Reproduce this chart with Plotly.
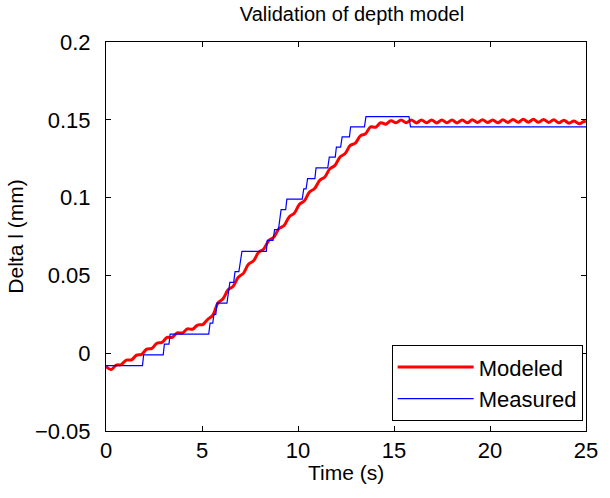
import plotly.graph_objects as go

# Measured (step-like sensor data)
t_meas = [0, 1.90, 1.96, 2.98, 3.04, 3.28, 3.34, 5.35, 5.42, 5.56, 5.62, 5.72, 5.78,
          6.30, 6.45, 6.65, 6.72, 6.92, 7.08, 8.35, 8.40, 8.70, 8.78, 8.98, 9.12,
          9.36, 9.42, 10.22, 10.30, 10.42, 10.50, 10.88, 10.94, 11.55, 11.63,
          11.94, 12.00, 12.22, 12.30, 12.68, 12.74, 13.46, 13.54, 15.78, 15.86, 25]
v_meas = [-0.0080, -0.0080, -0.0011, -0.0011, 0.0058, 0.0058, 0.0122, 0.0122, 0.0193,
          0.0193, 0.0250, 0.0250, 0.0322, 0.0322, 0.0455, 0.0455, 0.0524, 0.0524,
          0.0654, 0.0654, 0.0725, 0.0725, 0.0794, 0.0794, 0.0923, 0.0923, 0.0990,
          0.0990, 0.1056, 0.1056, 0.1122, 0.1122, 0.1191, 0.1191, 0.1260, 0.1260,
          0.1325, 0.1325, 0.1390, 0.1390, 0.1455, 0.1455, 0.1520, 0.1520, 0.1455, 0.1455]

# Modeled (smooth with small ripple)
t_model = [0.000, 0.265, 0.530, 0.795, 1.060, 1.325, 1.590, 1.855, 2.120, 2.385,
           2.650, 2.915, 3.180, 3.445, 3.710, 3.975, 4.240, 4.505, 4.770, 5.035,
           5.300, 5.565, 5.830, 6.095, 6.360, 6.625, 6.890, 7.155, 7.420, 7.685,
           7.950, 8.215, 8.480, 8.745, 9.010, 9.275, 9.540, 9.805, 10.070, 10.335,
           10.600, 10.865, 11.130, 11.395, 11.660, 11.925, 12.190, 12.455, 12.720, 12.985,
           13.250, 13.515, 13.780, 14.045, 14.310, 14.575, 14.840, 15.105, 15.370, 15.635,
           15.900, 16.165, 16.430, 16.695, 16.960, 17.225, 17.490, 17.755, 18.020, 18.285,
           18.550, 18.815, 19.080, 19.345, 19.610, 19.875, 20.140, 20.405, 20.670, 20.935,
           21.200, 21.465, 21.730, 21.995, 22.260, 22.525, 22.790, 23.055, 23.320, 23.585,
           23.850, 24.115, 24.380, 24.645, 24.910, 25.000]
v_model = [-0.0086, -0.0105, -0.0077, -0.0073, -0.0044, -0.0043, -0.0012, -0.0007, 0.0026, 0.0031,
           0.0064, 0.0069, 0.0101, 0.0102, 0.0131, 0.0130, 0.0156, 0.0154, 0.0181, 0.0184,
           0.0218, 0.0244, 0.0323, 0.0350, 0.0407, 0.0431, 0.0488, 0.0513, 0.0571, 0.0594,
           0.0649, 0.0670, 0.0724, 0.0747, 0.0801, 0.0821, 0.0876, 0.0900, 0.0956, 0.0980,
           0.1036, 0.1058, 0.1111, 0.1132, 0.1185, 0.1207, 0.1261, 0.1283, 0.1335, 0.1350,
           0.1397, 0.1410, 0.1455, 0.1452, 0.1481, 0.1472, 0.1494, 0.1481, 0.1499, 0.1481,
           0.1499, 0.1480, 0.1498, 0.1481, 0.1499, 0.1480, 0.1499, 0.1481, 0.1498, 0.1480,
           0.1499, 0.1481, 0.1500, 0.1482, 0.1500, 0.1482, 0.1499, 0.1481, 0.1500, 0.1483,
           0.1502, 0.1484, 0.1503, 0.1485, 0.1503, 0.1484, 0.1502, 0.1483, 0.1500, 0.1481,
           0.1497, 0.1478, 0.1493, 0.1474, 0.1490, 0.1484]

FONT = "Liberation Sans, Arial, Helvetica, sans-serif"

fig = go.Figure()
fig.add_trace(go.Scatter(x=t_model, y=v_model, mode="lines", name="Modeled",
                         line=dict(color="#ff0000", width=3, shape="spline", smoothing=1.0)))
fig.add_trace(go.Scatter(x=t_meas, y=v_meas, mode="lines", name="Measured",
                         line=dict(color="#0000ff", width=1.2)))

axis_common = dict(showline=True, linecolor="black", linewidth=1, mirror="ticks",
                   ticks="inside", ticklen=5, tickcolor="black", showgrid=False,
                   zeroline=False, tickfont=dict(family=FONT, size=22, color="black"))

fig.update_layout(
    width=610, height=498,
    margin=dict(l=106, r=14, t=42, b=67),
    paper_bgcolor="white", plot_bgcolor="white",
    font=dict(family=FONT, size=22, color="black"),
    title=dict(text="Validation of depth model", x=0.577, xanchor="center",
               y=0.972, yanchor="middle", font=dict(family=FONT, size=20, color="black")),
    xaxis=dict(range=[0, 25], dtick=5, tick0=0, **axis_common),
    yaxis=dict(range=[-0.05, 0.2], dtick=0.05, tick0=0,
               title=dict(text="Delta l (mm)", standoff=5, font=dict(family=FONT, size=21)),
               ticklabelstandoff=10,
               **axis_common),
    legend=dict(x=0.993, xanchor="right", y=0.025, yanchor="bottom",
                bordercolor="black", borderwidth=1, bgcolor="white",
                font=dict(family=FONT, size=22, color="black"),
                itemwidth=76, tracegroupgap=0),
    showlegend=True,
    annotations=[dict(text="Time (s)", xref="paper", yref="paper", x=0.5, y=-0.106,
                      xanchor="center", yanchor="middle", showarrow=False,
                      font=dict(family=FONT, size=21, color="black"))],
)

fig.write_html("out.html")
